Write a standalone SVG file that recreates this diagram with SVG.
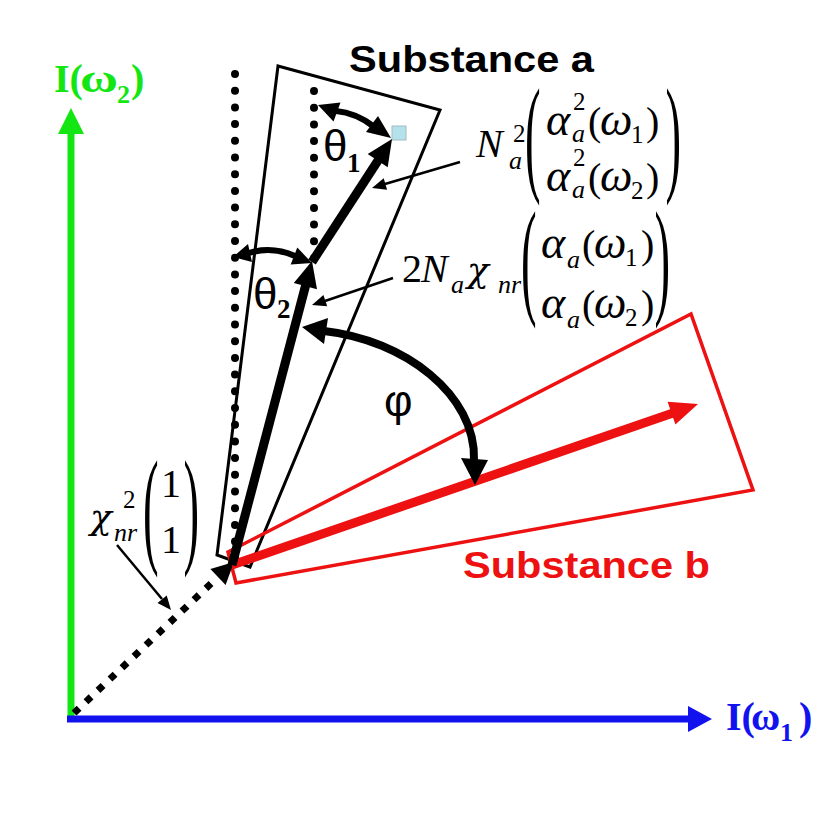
<svg xmlns="http://www.w3.org/2000/svg" width="832" height="834" viewBox="0 0 832 834">
<style>
.bg{fill:#fff}
.thin{stroke:#000;stroke-width:2.5;fill:none}
.vec{stroke:#000;stroke-width:9;fill:none}
.rvec{stroke:#ee1111;stroke-width:9;fill:none}
.hd{fill:#000}
.rhd{fill:#ee1111}
.dotr{stroke:#000;stroke-width:8;stroke-linecap:round;stroke-dasharray:0 16.7;fill:none}
.dots{stroke:#000;stroke-width:7;stroke-dasharray:7 9.5;fill:none}
.mi{font-family:"Liberation Serif","Times New Roman",serif;font-style:italic;font-size:40px;fill:#000}
.gr{font-family:"Liberation Serif","Times New Roman",serif;font-style:italic;font-size:46px;fill:#000}
.chi{font-family:"DejaVu Serif","Liberation Serif",serif;font-style:italic;font-size:36px;fill:#000}
.mr{font-family:"Liberation Serif","Times New Roman",serif;font-size:40px;fill:#000}
.si{font-family:"Liberation Serif","Times New Roman",serif;font-style:italic;font-size:26px;fill:#000}
.sr{font-family:"Liberation Serif","Times New Roman",serif;font-size:25px;fill:#000}
.bp{font-family:"Liberation Serif","Times New Roman",serif;font-size:130px;fill:#000}
.ttl{font-family:"Liberation Sans",Arial,sans-serif;font-weight:bold}
.ang{font-family:"Liberation Sans",Arial,sans-serif;font-size:44px;fill:#000}
.angs{font-family:"Liberation Serif","Times New Roman",serif;font-weight:bold;font-size:27px;fill:#000}
.axl{font-family:"Liberation Serif","Times New Roman",serif;font-weight:bold;font-size:40px}
.axs{font-family:"Liberation Serif","Times New Roman",serif;font-weight:bold;font-size:26px}
</style>
<rect class="bg" x="0" y="0" width="832" height="834"/>

<g id="axis-y">
  <line x1="71" y1="722" x2="71" y2="132" stroke="#14e614" stroke-width="7"/>
  <polygon points="58,134 84,134 71,108" fill="#14e614"/>
  <text class="axl" fill="#14e614" x="54" y="92">I(</text>
  <text class="axl" fill="#14e614" transform="translate(80,92) scale(1.3,1)">ω</text>
  <text class="axs" fill="#14e614" x="117" y="103">2</text>
  <text class="axl" fill="#14e614" x="131" y="92">)</text>
</g>

<g id="axis-x">
  <line x1="67" y1="719" x2="690" y2="719" stroke="#1212ee" stroke-width="7"/>
  <polygon points="688,706 688,732 712,719" fill="#1212ee"/>
  <text class="axl" fill="#1212ee" x="726" y="730">I(</text>
  <text class="axl" fill="#1212ee" x="751" y="730">ω</text>
  <text class="axs" fill="#1212ee" x="780" y="741">1</text>
  <text class="axl" fill="#1212ee" x="799" y="730">)</text>
</g>

<g id="substance-a">
  <polygon points="278,66 440,110 250,567 217,555" fill="none" stroke="#000" stroke-width="3"/>
  <text class="ttl" x="349" y="72" font-size="37" textLength="245" lengthAdjust="spacingAndGlyphs" fill="#000">Substance a</text>
</g>

<g id="substance-b">
  <polygon points="228,552 691,314 753,490 236,583" fill="none" stroke="#ee1111" stroke-width="3.5"/>
  <text class="ttl" x="463" y="578" font-size="36" textLength="247" lengthAdjust="spacingAndGlyphs" fill="#ee1111">Substance b</text>
</g>

<g id="reference-lines">
  <line class="dotr" x1="235" y1="74" x2="235" y2="560"/>
  <line class="dotr" x1="314" y1="91" x2="314" y2="260"/>
</g>

<g id="tip-marker">
  <rect x="392" y="126" width="14" height="14" fill="#b5e2ea" stroke="#9fbcc4" stroke-width="1"/>
</g>

<g id="connectors">
  <line class="dots" x1="74" y1="713" x2="218" y2="577"/>
  <polygon class="hd" points="234,562 225.6,585.1 210.4,569.1"/>
  <line class="rvec" x1="232" y1="565" x2="673" y2="413"/>
  <polygon class="rhd" points="698,404 675.4,424.4 667.6,401.8"/>
  <line class="vec" x1="232" y1="565" x2="306" y2="284"/>
  <polygon class="hd" points="312,261 317,289.2 293.8,283.1"/>
  <line class="vec" x1="312" y1="262" x2="379" y2="159"/>
  <polygon class="hd" points="392,139 387.7,167.3 367.7,154.1"/>
  <path d="M336,111 Q356,113 373,126" stroke="#000" stroke-width="6" fill="none"/>
  <polygon class="hd" points="318,105 340.5,102.6 333.5,121.4"/>
  <polygon class="hd" points="391,138 366,132 378,116"/>
  <path d="M249,253 Q272,246 295,256" stroke="#000" stroke-width="6" fill="none"/>
  <polygon class="hd" points="233,257 252,262 248,244"/>
  <polygon class="hd" points="312,263 290.7,264.4 297.3,247.6"/>
  <path d="M324,331 C405,340 476,395 474,460" stroke="#000" stroke-width="8" fill="none"/>
  <polygon class="hd" points="302,327 328,318 324,344"/>
  <polygon class="hd" points="475,485 461,458 488,460"/>
  <line class="thin" x1="460" y1="162" x2="385" y2="184"/>
  <polygon class="hd" points="372,188 387.1,189.75 383.7,178.25"/>
  <line class="thin" x1="393" y1="278" x2="325" y2="301"/>
  <polygon class="hd" points="312,305 327.2,306.3 323.4,294.9"/>
  <line class="thin" x1="117" y1="545" x2="162" y2="599"/>
  <polygon class="hd" points="171,610 157.5,603 166.7,595.4"/>
</g>

<g id="label-theta1">
  <text class="ang" x="323" y="161">θ</text>
  <text class="angs" x="347" y="172">1</text>
</g>
<g id="label-theta2">
  <text class="ang" x="253" y="309">θ</text>
  <text class="angs" x="277" y="318">2</text>
</g>
<g id="label-phi">
  <text class="ang" x="384" y="416" font-size="34">φ</text>
</g>

<g id="label-term-quadratic">
  <text class="mi" x="476" y="157">N</text>
  <text class="sr" x="513" y="142">2</text>
  <text class="si" x="509" y="169">a</text>
  <text class="bp" transform="translate(525,178) scale(0.36,1)">(</text>
  <text class="gr" x="546" y="135">α</text>
  <text class="sr" x="573" y="110">2</text>
  <text class="si" x="572" y="142">a</text>
  <text class="mr" x="588" y="135">(</text>
  <text class="gr" x="600" y="135">ω</text>
  <text class="sr" x="631" y="143">1</text>
  <text class="mr" x="646" y="135">)</text>
  <text class="gr" x="546" y="191">α</text>
  <text class="sr" x="573" y="166">2</text>
  <text class="si" x="572" y="198">a</text>
  <text class="mr" x="588" y="191">(</text>
  <text class="gr" x="600" y="191">ω</text>
  <text class="sr" x="631" y="199">2</text>
  <text class="mr" x="646" y="191">)</text>
  <text class="bp" transform="translate(665.6,178) scale(0.36,1)">)</text>
</g>

<g id="label-term-cross">
  <text class="mr" x="402" y="282">2</text>
  <text class="mi" x="421" y="282">N</text>
  <text class="si" x="451" y="293">a</text>
  <text class="chi" x="467" y="282">χ</text>
  <text class="si" x="498" y="293">nr</text>
  <text class="bp" transform="translate(521,301) scale(0.36,1)">(</text>
  <text class="gr" x="541" y="258">α</text>
  <text class="si" x="567" y="268">a</text>
  <text class="mr" x="582" y="258">(</text>
  <text class="gr" x="594" y="258">ω</text>
  <text class="sr" x="625" y="266">1</text>
  <text class="mr" x="641" y="258">)</text>
  <text class="gr" x="541" y="318">α</text>
  <text class="si" x="567" y="328">a</text>
  <text class="mr" x="582" y="318">(</text>
  <text class="gr" x="594" y="318">ω</text>
  <text class="sr" x="625" y="326">2</text>
  <text class="mr" x="641" y="318">)</text>
  <text class="bp" transform="translate(654.6,301) scale(0.36,1)">)</text>
</g>

<g id="label-term-nonresonant">
  <text class="chi" x="90" y="529">χ</text>
  <text class="sr" x="123" y="508">2</text>
  <text class="si" x="114" y="541">nr</text>
  <text class="bp" transform="translate(143,550) scale(0.36,1)">(</text>
  <text class="mr" x="161" y="497">1</text>
  <text class="mr" x="161" y="553">1</text>
  <text class="bp" transform="translate(183.6,550) scale(0.36,1)">)</text>
</g>
</svg>
